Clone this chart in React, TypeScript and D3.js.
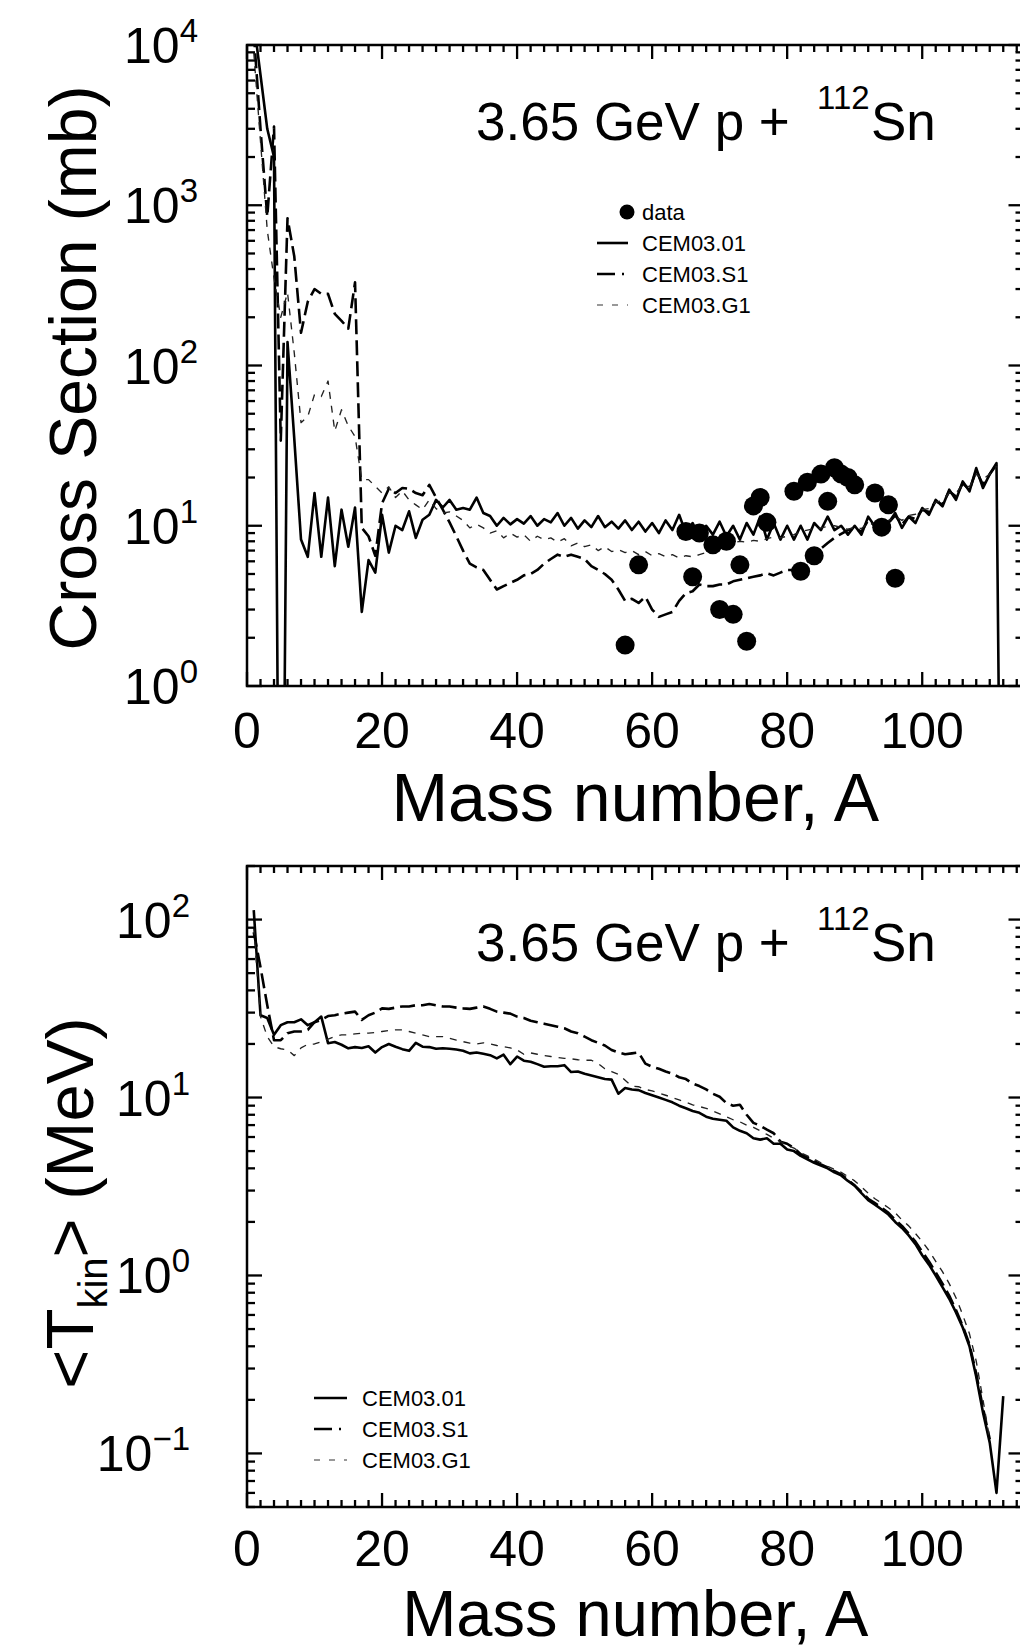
import React from 'react';
import * as d3 from 'd3';

// mass number A runs 1, 2, 3 ... along each series (index + 1)
const massTicks = [0, 20, 40, 60, 80, 100];
const topDecades = [0, 1, 2, 3, 4];
const bottomDecades = [-1, 0, 1, 2];
const seriesNames = ['CEM03.01', 'CEM03.S1', 'CEM03.G1'];

// cross sections (mb)
const xsCem01 = [
  14000, 6500, 3000, 2000, 0.001, 140, 35, 8.2, 6.4, 16,
  6.4, 15, 5.6, 12.6, 7.4, 13, 2.9, 6.1, 5.1, 11.7,
  6.8, 10, 9.4, 12.3, 8.4, 10.9, 11.7, 14.5, 13, 14.5,
  12.6, 12.9, 12.6, 15, 12, 11.5, 10.0, 11.2, 10.2, 11.0,
  10.3, 11.5, 10.0, 11.0, 10.5, 12.0, 10.0, 11.2, 9.6, 10.8,
  9.8, 11.5, 9.8, 10.6, 9.6, 10.8, 9.4, 10.6, 9.2, 10.4,
  9.0, 10.8, 9.4, 11.7, 9.0, 10.4, 8.6, 10.0, 8.8, 10.6,
  8.6, 10.0, 8.2, 10.4, 8.8, 11.4, 8.2, 10.4, 8.2, 10.0,
  8.2, 10.0, 8.2, 10.4, 9.4, 11.4, 9.4, 10.0, 8.8, 10.0,
  8.8, 11.4, 9.9, 10.9, 10.4, 12.0, 9.7, 11.4, 10.4, 12.9,
  11.7, 14.5, 13.2, 16.8, 14.5, 18.9, 16.4, 22.9, 17.2, 21,
  24.6, 0.001,
];
const xsS1 = [
  12000, 3000, 850, 3100, 34, 830, 480, 160, 250, 300,
  280, 280, 210, 190, 170, 330, 9.7, 8.6, 6.5, 13.8,
  17, 16, 17.2, 17, 16, 15.5, 18, 15, 12.6, 10.5,
  8.6, 7.0, 5.8, 5.5, 5.3, 4.6, 4.0, 4.2, 4.4, 4.6,
  4.9, 5.0, 5.3, 5.8, 6.2, 6.6, 6.4, 6.6, 6.4, 6.2,
  5.6, 5.3, 5.0, 4.6, 4.0, 3.4, 3.5, 3.3, 3.6, 3.0,
  2.7, 2.8, 2.9, 3.4, 3.8, 3.9, 4.3, 4.2, 4.2, 4.3,
  4.3, 4.5, 4.6, 4.7, 4.8, 4.9, 5.05, 4.9, 5.1, 5.3,
  5.3, 5.6, 6.0, 6.4, 7.2, 7.8, 8.4, 8.9, 9.4, 9.6,
  9.2, 10.8, 10.0, 10.6, 10.4, 11.6, 10.2, 11.4, 11.0, 12.6,
  12.2, 14.2, 13.6, 16.4, 15.2, 18.4, 16.8, 22, 18, 21,
  24,
];
const xsG1 = [
  9000, 2500, 700, 350, 200, 285, 120, 44, 48, 66,
  64, 80, 39, 53, 42, 36, 19.4, 19.4, 17.6, 16,
  17.5, 15, 16.5, 14.5, 13.5, 12.6, 14.5, 12.8, 12, 12.2,
  11.5, 10.8, 9.7, 10.2, 9.7, 9.0, 9.3, 8.4, 9.0, 8.5,
  8.8, 8.0, 8.6, 8.2, 8.4, 7.9, 8.3, 7.5, 7.8, 7.4,
  7.6, 7.0, 7.4, 6.9, 7.1, 6.8, 7.0, 6.6, 6.9, 6.5,
  6.7, 6.4, 6.6, 6.3, 6.5, 6.4, 6.6, 6.8, 7.0, 7.3,
  7.5, 7.8, 8.0, 7.9, 8.1, 8.0, 8.3, 8.5, 8.4, 8.6,
  8.8, 9.2, 9.4, 9.6, 9.7, 9.9, 10.0, 9.8, 9.5, 9.8,
  9.6, 10.4, 10.2, 10.6, 10.8, 11.4, 10.8, 11.6, 11.8, 12.6,
  12.8, 14, 14.4, 16, 16, 18, 17.5, 21, 19.5, 21,
  23.5,
];

// measured cross sections
const dataA = [56, 58, 65, 66, 67, 69, 70, 71, 72, 73, 74, 75, 76, 77, 81, 82, 83, 84, 85, 86, 87, 88, 89, 90, 93, 94, 95, 96];
const dataXs = [1.8, 5.7, 9.2, 4.8, 9.0, 7.6, 3.0, 8.0, 2.8, 5.7, 1.9, 13.3, 15.0, 10.5, 16.4, 5.2, 18.7, 6.5, 21, 14.2, 23, 21, 20, 18, 16, 9.8, 13.5, 4.7];

// mean kinetic energies (MeV)
const tkCem01 = [
  113, 29, 28, 22.5, 25.5, 26.5, 26.5, 27.5, 25.5, 26.5,
  28.5, 20.2, 20.5, 19.8, 18.9, 19.2, 19.0, 19.4, 17.9, 19.2,
  20.0, 19.3, 18.7, 18.3, 20.3, 19.3, 19.2, 18.8, 18.9, 18.8,
  18.6, 18.3, 17.7, 17.9, 17.6, 17.3, 16.6, 17.4, 15.4, 17.0,
  16.1, 15.9, 15.4, 14.9, 15.0, 15.0, 15.2, 13.9, 14.0, 13.6,
  13.3, 13.0, 12.7, 12.6, 10.5, 11.3, 11.1, 11.0, 10.6, 10.3,
  10.0, 9.7, 9.4, 9.0, 8.7, 8.4, 8.2, 7.8, 7.6, 7.5,
  7.4, 6.8, 6.5, 6.3, 5.9, 5.8, 5.9, 5.5, 5.5, 5.1,
  5.0, 4.7, 4.5, 4.3, 4.15, 4.0, 3.8, 3.65, 3.4, 3.2,
  2.9, 2.65, 2.5, 2.35, 2.2, 2.0, 1.85, 1.68, 1.5, 1.3,
  1.15, 1.0, 0.86, 0.74, 0.62, 0.51, 0.4, 0.27, 0.17, 0.115,
  0.06, 0.21,
];
const tkS1 = [
  85, 54, 33, 21, 21, 23, 23.5, 23.5, 24, 26.5,
  27.3, 28.7, 29, 29.6, 30, 30.4, 27.3, 29, 30, 31.7,
  31.5, 32, 32.5, 32.5, 33, 33, 33.5, 33, 32.5, 32.5,
  32, 31.7, 31.5, 32, 32.5, 31.5, 30.4, 30, 29.6, 28.5,
  28, 27, 26.5, 26, 25.5, 25, 24.5, 23.5, 23, 22,
  21, 20.3, 19.6, 18.5, 17.9, 17.5, 17.7, 17.9, 15.5, 14.9,
  14.5, 14, 13.6, 13, 12.7, 12, 11.6, 11.1, 10.5, 10.1,
  9.3, 9.0, 9.1, 8.0, 7.2, 6.95, 6.6, 6.3, 5.65, 5.5,
  5.2, 4.8, 4.6, 4.4, 4.2, 4.05, 3.85, 3.7, 3.45, 3.2,
  2.95, 2.7, 2.55, 2.4, 2.25, 2.05, 1.9, 1.72, 1.55, 1.36,
  1.2, 1.04, 0.9, 0.77, 0.64, 0.52, 0.41, 0.28, 0.18, 0.12,
];
const tkG1 = [
  90, 28.5, 22, 19.3, 18.8, 18.5, 17.2, 19, 19.9, 20,
  20.6, 21.3, 22, 22.5, 22.5, 22.8, 23, 23, 23.2, 23.5,
  23.8, 24, 24, 23.5, 23, 22.5, 22, 22, 22, 21.5,
  21, 20.6, 20.2, 20, 20.3, 20, 19.6, 19.3, 19, 18.5,
  17.5, 17.8, 17.5, 17.2, 17, 16.8, 16.6, 16.5, 16.3, 16.2,
  16.2, 15.5, 14.5, 14, 13.5, 12.5, 11.6, 11.5, 11.1, 10.9,
  10.6, 10.3, 10.0, 9.7, 9.4, 9.1, 8.9, 8.7, 8.4, 8.1,
  7.8, 7.5, 7.3, 7.0, 6.8, 6.5, 6.2, 5.9, 5.65, 5.4,
  5.2, 4.9, 4.7, 4.5, 4.3, 4.1, 3.95, 3.8, 3.6, 3.4,
  3.15, 2.9, 2.7, 2.55, 2.4, 2.25, 2.05, 1.9, 1.72, 1.55,
  1.38, 1.2, 1.05, 0.9, 0.75, 0.6, 0.47, 0.33, 0.2, 0.12,
];

const FONT = '"Liberation Sans", Arial, Helvetica, sans-serif';
const X0 = 247;
const X1 = 1023.5;
const xScale = d3.scaleLinear().domain([0, 115]).range([X0, X1]);

// plot dash vs legend dash: the S1 legend sample shows a trailing dot
const lineStyles = [
  { stroke: '#000', width: 2.6, dash: undefined, legendDash: undefined, legendStroke: '#000' },
  { stroke: '#000', width: 2.6, dash: '15,6', legendDash: '18,7,2,7', legendStroke: '#000' },
  { stroke: '#222', width: 1.35, dash: '7,7', legendDash: '6,9', legendStroke: '#777' },
];

function logTicks(domain: number[]) {
  const out: { v: number; major: boolean }[] = [];
  const lo = Math.floor(Math.log10(domain[0]));
  const hi = Math.ceil(Math.log10(domain[1]));
  for (let d = lo; d <= hi; d++) {
    for (let k = 1; k <= 9; k++) {
      const v = k * Math.pow(10, d);
      if (v >= domain[0] * 0.999 && v <= domain[1] * 1.001) out.push({ v, major: k === 1 });
    }
  }
  return out;
}

function Panel({ id, top, height, yDomain, decades, series, points, legend, yLabel, labelX, xLab }: any) {
  const bottom = top + height;
  const y = d3.scaleLog().domain(yDomain).range([bottom, top]);
  const line = d3
    .line<number>()
    .x((_, i) => xScale(i + 1))
    .y((v) => y(v));

  const xMinor = d3.range(0, 115, 2);
  const yT = logTicks(yDomain);

  return (
    <g>
      <defs>
        <clipPath id={id}>
          <rect x={X0} y={top} width={X1 - X0} height={height} />
        </clipPath>
      </defs>

      <g clipPath={`url(#${id})`}>
        {series.map((vals: number[], i: number) => (
          <path
            key={i}
            d={line(vals) || ''}
            fill="none"
            stroke={lineStyles[i].stroke}
            strokeWidth={lineStyles[i].width}
            strokeDasharray={lineStyles[i].dash}
            strokeLinejoin="round"
          />
        ))}
        {points &&
          points.a.map((a: number, i: number) => (
            <circle key={i} cx={xScale(a)} cy={y(points.v[i])} r={9.5} fill="#000" />
          ))}
      </g>

      {/* frame and ticks, all pointing inward */}
      <rect x={X0} y={top} width={X1 - X0} height={height} fill="none" stroke="#000" strokeWidth={2.5} />
      <g stroke="#000" strokeWidth={2.3}>
        {xMinor.map((t) => {
          const len = t % 20 === 0 ? 14 : 7;
          const x = xScale(t);
          return (
            <g key={t}>
              <line x1={x} x2={x} y1={bottom} y2={bottom - len} />
              <line x1={x} x2={x} y1={top} y2={top + len} />
            </g>
          );
        })}
        {yT.map((t, i) => {
          const len = t.major ? 15 : 8;
          const yy = y(t.v);
          return (
            <g key={i}>
              <line x1={X0} x2={X0 + len} y1={yy} y2={yy} />
              <line x1={X1} x2={X1 - len} y1={yy} y2={yy} />
            </g>
          );
        })}
      </g>

      {/* tick labels and titles */}
      <g fontFamily={FONT} fill="#000">
        {massTicks.map((t) => (
          <text key={t} x={xScale(t)} y={bottom + xLab.tick} fontSize={50} textAnchor="middle">
            {t}
          </text>
        ))}
        {decades.map((d: number) => (
          <text key={d} x={labelX} y={y(Math.pow(10, d)) + 18} fontSize={50} textAnchor="end">
            10
            <tspan dy={-21} fontSize={33}>
              {d < 0 ? '\u2212' + Math.abs(d) : d}
            </tspan>
          </text>
        ))}
        <text x={(X0 + X1) / 2} y={bottom + xLab.title} fontSize={xLab.size} textAnchor="middle">
          Mass number, A
        </text>
        <text x={476} y={top + 95} fontSize={53}>
          3.65 GeV p +
        </text>
        <text x={817} y={top + 64} fontSize={33}>
          112
        </text>
        <text x={871} y={top + 95} fontSize={53}>
          Sn
        </text>
        {yLabel}
      </g>

      {/* legend */}
      <g fontFamily={FONT} fontSize={22} fill="#000">
        {legend.data && (
          <g>
            <circle cx={legend.data.cx} cy={legend.data.cy} r={7.5} fill="#000" />
            <text x={legend.textX} y={legend.data.cy + 8}>
              data
            </text>
          </g>
        )}
        {seriesNames.map((name, i) => (
          <g key={name}>
            <line
              x1={legend.x1}
              x2={legend.x2}
              y1={legend.rows[i]}
              y2={legend.rows[i]}
              stroke={lineStyles[i].legendStroke}
              strokeWidth={lineStyles[i].width}
              strokeDasharray={lineStyles[i].legendDash}
            />
            <text x={legend.textX} y={legend.rows[i] + 8}>
              {name}
            </text>
          </g>
        ))}
      </g>
    </g>
  );
}

export default function App() {
  return (
    <svg
      width={1020}
      height={1650}
      style={{ position: 'absolute', left: 0, top: 0, background: '#fff' }}
    >
      <rect width={1020} height={1650} fill="#fff" />
      <Panel
        id="clip-xs"
        top={45}
        height={641}
        yDomain={[1, 10000]}
        decades={topDecades}
        series={[xsCem01, xsS1, xsG1]}
        points={{ a: dataA, v: dataXs }}
        labelX={198}
        xLab={{ tick: 62, title: 135, size: 68 }}
        legend={{ data: { cx: 627, cy: 212 }, x1: 597, x2: 628, textX: 642, rows: [243, 274, 305] }}
        yLabel={
          <text transform="translate(96,368) rotate(-90)" fontSize={66} textAnchor="middle">
            Cross Section (mb)
          </text>
        }
      />
      <Panel
        id="clip-tk"
        top={866}
        height={641}
        yDomain={[0.05, 200]}
        decades={bottomDecades}
        series={[tkCem01, tkS1, tkG1]}
        labelX={190}
        xLab={{ tick: 59, title: 129, size: 65 }}
        legend={{ x1: 314, x2: 347, textX: 362, rows: [1398, 1429, 1460] }}
        yLabel={
          <text transform="translate(93,1203) rotate(-90)" fontSize={67} textAnchor="middle">
            {'<T'}
            <tspan dy={14} fontSize={40}>
              kin
            </tspan>
            <tspan dy={-14}>{'> (MeV)'}</tspan>
          </text>
        }
      />
    </svg>
  );
}
